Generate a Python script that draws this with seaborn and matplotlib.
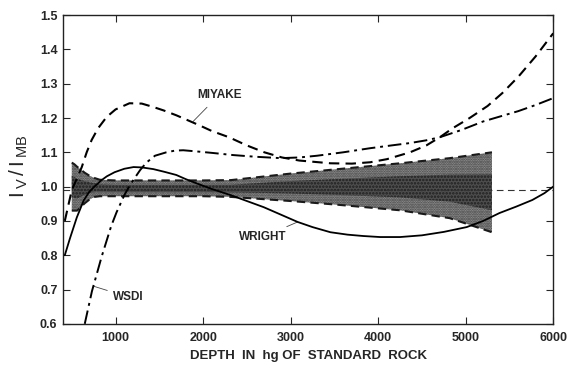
import matplotlib
matplotlib.use("Agg")
import matplotlib.pyplot as plt
import seaborn as sns
import numpy as np
import pandas as pd

# ---- data ----
miyake_x = [420, 460, 500, 560, 614, 670, 727, 800, 898, 1000, 1159, 1300, 1432, 1550, 1693,
            1820, 1955, 2100, 2295, 2500, 2700, 2900, 3100, 3455, 3700, 3909, 4100, 4364,
            4550, 4705, 4850, 5045, 5250, 5420, 5600, 5800, 6000]
miyake_y = [0.90, 0.945, 0.99, 1.025, 1.057, 1.10, 1.136, 1.17, 1.203, 1.225, 1.243, 1.242,
            1.232, 1.222, 1.208, 1.194, 1.179, 1.162, 1.144, 1.12, 1.10, 1.085, 1.076, 1.068,
            1.067, 1.071, 1.08, 1.10, 1.12, 1.144, 1.17, 1.20, 1.235, 1.273, 1.32, 1.38, 1.447]

wsdi_x = [648, 730, 840, 950, 1011, 1100, 1150, 1205, 1280, 1352, 1450, 1580, 1680, 1773,
          1950, 2114, 2341, 2600, 2886, 3100, 3300, 3600, 3909, 4150, 4364, 4550, 4705,
          4950, 5200, 5400, 5600, 5800, 6000]
wsdi_y = [0.60, 0.695, 0.795, 0.885, 0.925, 0.975, 0.998, 1.02, 1.048, 1.07, 1.09, 1.10,
          1.105, 1.106, 1.102, 1.098, 1.092, 1.087, 1.083, 1.085, 1.09, 1.10, 1.112, 1.12,
          1.127, 1.135, 1.144, 1.165, 1.19, 1.205, 1.22, 1.238, 1.258]

wright_x = [420, 480, 557, 636, 700, 770, 841, 900, 989, 1100, 1205, 1300, 1432, 1560, 1693,
            1800, 1920, 2100, 2318, 2500, 2693, 2900, 3080, 3250, 3455, 3650, 3830, 4023,
            4250, 4500, 4750, 5011, 5200, 5386, 5580, 5761, 5900, 6000]
wright_y = [0.80, 0.85, 0.91, 0.96, 0.985, 1.003, 1.019, 1.03, 1.042, 1.052, 1.057, 1.056,
            1.051, 1.043, 1.034, 1.022, 1.01, 0.993, 0.975, 0.958, 0.94, 0.917, 0.897, 0.882,
            0.867, 0.86, 0.856, 0.853, 0.853, 0.858, 0.868, 0.882, 0.90, 0.923, 0.942, 0.961,
            0.981, 1.00]

band_x = [500, 530, 560, 600, 650, 700, 760, 820, 900, 1000, 1500, 2000, 2318, 3000, 3500,
          4250, 4818, 5300]
band_hi = [1.07, 1.065, 1.058, 1.05, 1.04, 1.032, 1.025, 1.02, 1.019, 1.018, 1.018, 1.018,
           1.019, 1.038, 1.05, 1.068, 1.083, 1.10]
band_lo = [0.93, 0.93, 0.93, 0.94, 0.952, 0.962, 0.97, 0.972, 0.972, 0.972, 0.972, 0.972,
           0.97, 0.958, 0.948, 0.931, 0.908, 0.867]

ref_level = 0.99

x_ticks = [1000, 2000, 3000, 4000, 5000, 6000]
y_ticks = [0.6, 0.7, 0.8, 0.9, 1.0, 1.1, 1.2, 1.3, 1.4, 1.5]

# ---- style ----
sns.set_style("ticks")
plt.rcParams['font.family'] = ['Liberation Sans', 'DejaVu Sans']
plt.rcParams['font.weight'] = 'bold'
plt.rcParams['mathtext.fontset'] = 'custom'
plt.rcParams['mathtext.rm'] = 'Liberation Sans:bold'
plt.rcParams['mathtext.it'] = 'Liberation Sans:bold'
plt.rcParams['hatch.linewidth'] = 1.2

fig = plt.figure(figsize=(5.68, 3.68), dpi=100)
ax = fig.add_axes([0.111, 0.12, 0.863, 0.839])

# band
bx = np.array(band_x); bh = np.array(band_hi); bl = np.array(band_lo)
ax.fill_between(bx, bl, bh, facecolor='#9a9a9a', edgecolor='#3c3c3c', hatch='.......',
                linewidth=0, zorder=1)
mid = (bh + bl) / 2
half = (bh - bl) / 2
ax.fill_between(bx, mid - half * 0.45, mid + half * 0.45, facecolor='#4e4e4e', edgecolor='#1e1e1e',
                hatch='.....', linewidth=0, zorder=1.5)

df_band = pd.DataFrame({'x': band_x, 'hi': band_hi, 'lo': band_lo})
sns.lineplot(data=df_band, x='x', y='hi', ax=ax, color='#1a1a1a', lw=1.5, linestyle=(0, (4, 2.5)), zorder=3)
sns.lineplot(data=df_band, x='x', y='lo', ax=ax, color='#1a1a1a', lw=1.5, linestyle=(0, (4, 2.5)), zorder=3)

ax.axhline(ref_level, color='#333333', lw=0.8, linestyle=(0, (6, 4)), zorder=2.5)

df_m = pd.DataFrame({'x': miyake_x, 'y': miyake_y})
df_w = pd.DataFrame({'x': wsdi_x, 'y': wsdi_y})
df_r = pd.DataFrame({'x': wright_x, 'y': wright_y})
sns.lineplot(data=df_m, x='x', y='y', ax=ax, color='black', lw=1.5, linestyle=(0, (5, 3)), zorder=4)
sns.lineplot(data=df_w, x='x', y='y', ax=ax, color='black', lw=1.4, linestyle=(0, (7, 2.5, 1.5, 2.5)), zorder=4)
sns.lineplot(data=df_r, x='x', y='y', ax=ax, color='black', lw=1.3, zorder=4)

# annotations
ax.annotate('MIYAKE', xy=(1886, 1.19), xytext=(2182, 1.267), ha='center', va='center',
            fontsize=8.5, fontweight='bold',
            arrowprops=dict(arrowstyle='-', color='#444444', lw=0.6, shrinkA=3, shrinkB=0))
ax.annotate('WRIGHT', xy=(3080, 0.897), xytext=(2682, 0.853), ha='center', va='center',
            fontsize=8.5, fontweight='bold',
            arrowprops=dict(arrowstyle='-', color='#444444', lw=0.6, shrinkA=2, shrinkB=0))
ax.annotate('WSDI', xy=(745, 0.71), xytext=(1148, 0.678), ha='center', va='center',
            fontsize=8.5, fontweight='bold',
            arrowprops=dict(arrowstyle='-', color='#444444', lw=0.6, shrinkA=2, shrinkB=0))

ax.set_xlim(400, 6000)
ax.set_ylim(0.6, 1.5)
ax.set_xticks(x_ticks)
ax.set_yticks(y_ticks)
ax.set_xticklabels([str(t) for t in x_ticks])
ax.set_yticklabels([f"{t:.1f}" for t in y_ticks])
ax.tick_params(direction='in', top=True, right=True, length=5, width=0.8, labelsize=9, pad=4)
ax.tick_params(axis='x', pad=6)
for lab in ax.get_xticklabels() + ax.get_yticklabels():
    lab.set_fontweight('bold')
for s in ax.spines.values():
    s.set_linewidth(1.0)
    s.set_color('#222222')

ax.set_xlabel('DEPTH  IN  hg OF  STANDARD  ROCK', fontsize=9.5, fontweight='bold', labelpad=4)
ax.set_ylabel(r'$\mathregular{I\,_V\,/\,I\,_{MB}}$', fontsize=15)
ax.yaxis.set_label_coords(-0.068, 0.51)

fig.savefig('out.png', dpi=100)
